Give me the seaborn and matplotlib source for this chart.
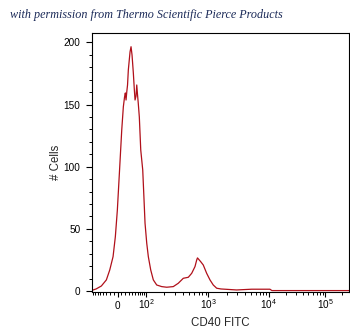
import numpy as np
import pandas as pd
import matplotlib
matplotlib.use("Agg")
import matplotlib.pyplot as plt
import seaborn as sns

# ---- data (CD40 FITC intensity, # cells) ----
fitc = [-86.6, -65.9, -45.8, -29.9, -20.3, -11.5, -5.6, -0.5, 5.1, 10.7,
        14.9, 18.1, 20.3, 22.2, 24.2, 26.4, 28.7, 33.8, 36.9, 40.1,
        44.4, 47.9, 50.4, 54.0, 56.7, 59.8, 62.6, 67.1, 73.3, 82.6,
        89.2, 94.5, 102.9, 109.6, 120.4, 133.1, 151.5, 182.8, 220, 280,
        336, 403, 483, 546, 615, 654, 673, 755, 829, 937,
        1059, 1200, 1367, 1610, 2925, 5177, 10420, 11300, 35400, 262000]
cells = [0.4, 1.6, 4.0, 8.9, 16.9, 27.6, 43.7, 65.2, 97.4, 129.6,
         148.3, 156.1, 159.4, 153.7, 160.2, 165.8, 177.9, 192.4, 196.6, 189.9,
         175.5, 161.8, 153.7, 156.9, 165.8, 157.7, 151.3, 140.0, 113.5, 97.4,
         73.2, 54.5, 38.4, 27.6, 16.9, 8.9, 4.8, 3.5, 3.0, 3.5,
         6.2, 10.2, 11.0, 14.2, 19.6, 24.9, 26.6, 23.6, 20.9, 14.2,
         8.9, 4.8, 2.2, 1.6, 0.8, 1.4, 1.4, 0.3, 0.3, 0.3]

major_vals = [0, 100, 1000, 10000, 100000]
major_labels = ["0", "$10^{2}$", "$10^{3}$", "$10^{4}$", "$10^{5}$"]
yticks = [0, 50, 100, 150, 200]
title_text = "with permission from Thermo Scientific Pierce Products"
xlabel = "CD40 FITC"
ylabel = "# Cells"

df = pd.DataFrame({"fitc": fitc, "cells": cells})

# ---- logicle-like display transform (asinh, piecewise-calibrated) ----
C = 50.0
anchor_v = np.array([-1e6, -1e5, -1e4, -1e3, -100, 0, 100, 1e3, 1e4, 1e5, 1e6])
anchor_p = np.array([-147, -90.5, -34, 26.5, 89, 117.5, 146, 208.5, 269, 325.5, 382])
anchor_t = np.arcsinh(anchor_v / C)

def fwd(x):
    return np.interp(np.arcsinh(np.asarray(x, dtype=float) / C), anchor_t, anchor_p)

def inv(p):
    return C * np.sinh(np.interp(np.asarray(p, dtype=float), anchor_p, anchor_t))

sns.set_style("ticks")
plt.rcParams["font.family"] = ["Liberation Sans", "DejaVu Sans"]
plt.rcParams["mathtext.default"] = "regular"

W, H = 350, 334
fig = plt.figure(figsize=(W / 100, H / 100), dpi=100)
L, R, T, B = 91.5, 349.0, 33.3, 291.7
ax = fig.add_axes([L / W, 1 - B / H, (R - L) / W, (B - T) / H])

sns.lineplot(data=df, x="fitc", y="cells", ax=ax, color="#b0101a",
             linewidth=0.9, sort=False, estimator=None)

ax.set_xscale("function", functions=(fwd, inv))
ax.set_xlim(-87, 262143)
ax.set_ylim(-0.6, 207.4)

minor = [-80, -70, -60, -50, -40, -30, -20, -10,
         10, 20, 30, 40, 50, 60, 70, 80, 90]
minor += [m * 100 for m in range(2, 10)]
minor += [m * 1000 for m in range(2, 10)]
minor += [m * 10000 for m in range(2, 10)]
minor += [200000]
ax.set_xticks(major_vals)
ax.set_xticklabels(major_labels)
ax.set_xticks(minor, minor=True)
ax.set_yticks(yticks)
ax.set_yticks(np.arange(0, 210, 10), minor=True)

for s in ax.spines.values():
    s.set_visible(True)
    s.set_color("black")
    s.set_linewidth(0.8)

ax.tick_params(axis="x", which="major", length=3.8, width=0.8, pad=9.0,
               labelsize=7.2, colors="black")
ax.tick_params(axis="x", which="minor", length=2.2, width=0.7, colors="black")
ax.tick_params(axis="y", which="major", length=4.5, width=0.8, pad=3.5,
               labelsize=7.2, colors="black")
ax.tick_params(axis="y", which="minor", length=2.5, width=0.7, colors="black")
for lab in ax.get_xticklabels():
    lab.set_verticalalignment("baseline")

ax.set_xlabel(xlabel, fontsize=8.3, labelpad=4)
ax.set_ylabel(ylabel, fontsize=8.3, labelpad=1)

fig.text(10 / W, 1 - 15 / H, title_text, fontsize=8.7, style="italic",
         family=["Liberation Serif", "DejaVu Serif"], color="#1b2a58",
         ha="left", va="center")

fig.savefig("out.png", dpi=100)
